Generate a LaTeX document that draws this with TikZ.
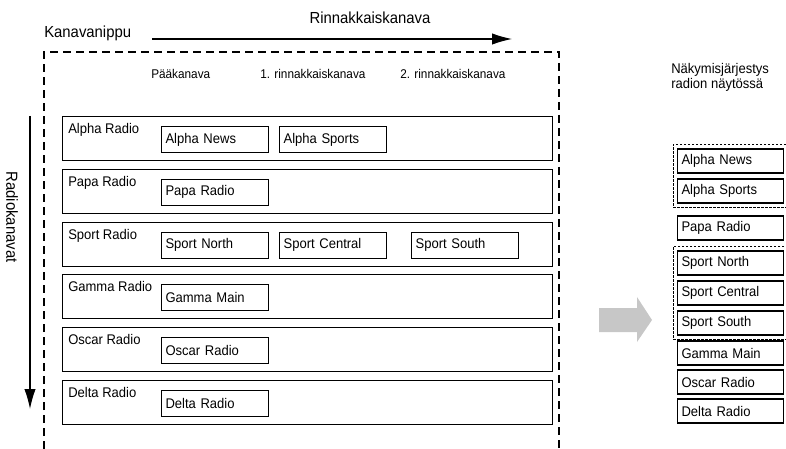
\documentclass[tikz,border=0pt]{standalone}
\usepackage{fontspec}
\setmainfont{Liberation Sans}[FakeStretch=0.93]
\usetikzlibrary{positioning,fit,arrows.meta}

\begin{document}
\begin{tikzpicture}[
        x=0.75pt, y=-0.75pt,
        every node/.style={font=\fontsize{10.5}{12}\selectfont, inner sep=0pt},
        title/.style={font=\fontsize{12}{14}\selectfont},
        colhead/.style={font=\fontsize{9.5}{11}\selectfont, anchor=west},
        frame/.style={line width=1.5pt, dash pattern=on 6pt off 3.75pt},
        rowbox/.style={draw, line width=0.8pt, minimum width=367.5pt, minimum height=33pt, anchor=north west},
        chbox/.style={draw, line width=0.8pt, text width=74.25pt, inner xsep=3pt, minimum height=19.5pt, align=left},
        listbox/.style={draw, line width=0.8pt, text width=73.5pt, inner xsep=3pt, minimum height=18pt, align=left, anchor=west},
        group/.style={draw, line width=0.6pt, dash pattern=on 2pt off 1pt, inner sep=3pt},
        axis/.style={line width=0.8pt, -{Latex[length=15pt,width=8.5pt]}}
        ]
        \useasboundingbox (0,0) rectangle (786,449);

        % bundle frame and axes
        \draw[frame] (44,449) |- (559,52) -- (559,449);
        \node[title, anchor=west] (bundle) at (44,33) {Kanavanippu};
        \node[title] (parallel) at (370,18) {Rinnakkaiskanava};
        \coordinate (pStart) at (152,39);
        \coordinate (pEnd) at (512,39);
        \draw[axis] (pStart) -- (pEnd);
        \node[title, rotate=-90] (channels) at (12,217) {Radiokanavat};
        \coordinate (cStart) at (30,116);
        \coordinate (cEnd) at (30,409);
        \draw[axis] (cStart) -- (cEnd);

        \node[colhead] (main) at (151,74) {Pääkanava};
        \node[colhead] (par1) at (260,74) {1. rinnakkaiskanava};
        \node[colhead] (par2) at (400,74) {2. rinnakkaiskanava};

        % radio channels
        \foreach \lbl [count=\i] in {Alpha Radio, Papa Radio, Sport Radio, Gamma Radio, Oscar Radio, Delta Radio} {
            \node[rowbox] (row\i) at (62,{116+52.8*(\i-1)}) {};
            \node[anchor=north west] (lbl\i) at ([shift={(4.5pt,-5.25pt)}]row\i.north west) {\lbl};
        }

        \node[chbox, below right=7.5pt and 74.25pt of row1.north west] (alphaNews) {Alpha News};
        \node[chbox, right=7.5pt of alphaNews] (alphaSports) {Alpha Sports};
        \node[chbox, below right=7.5pt and 74.25pt of row2.north west] (papa) {Papa Radio};
        \node[chbox, below right=7.5pt and 74.25pt of row3.north west] (sportNorth) {Sport North};
        \node[chbox, right=7.5pt of sportNorth] (sportCentral) {Sport Central};
        \node[chbox, right=18pt of sportCentral] (sportSouth) {Sport South};
        \node[chbox, below right=7.5pt and 74.25pt of row4.north west] (gamma) {Gamma Main};
        \node[chbox, below right=7.5pt and 74.25pt of row5.north west] (oscar) {Oscar Radio};
        \node[chbox, below right=7.5pt and 74.25pt of row6.north west] (delta) {Delta Radio};

        % order on the display
        \fill[black!22] (599,308) -- (637,308) -- (637,297) -- (652,320) -- (637,342) -- (637,332) -- (599,332) -- cycle;
        \node[anchor=north west, align=left, font=\fontsize{10.5}{11.25}\selectfont] (order) at (671,63) {Näkymisjärjestys\\radion näytössä};
        \foreach \txt/\yy [count=\i] in {Alpha News/161, Alpha Sports/191, Papa Radio/228, Sport North/263, Sport Central/293, Sport South/323, Gamma Main/353, Oscar Radio/382, Delta Radio/411}
            \node[listbox] (item\i) at (677,\yy) {\txt};
        \node[group, fit=(item1)(item2)] (grpAlpha) {};
        \node[group, fit=(item4)(item6)] (grpSport) {};
\end{tikzpicture}
\end{document}
